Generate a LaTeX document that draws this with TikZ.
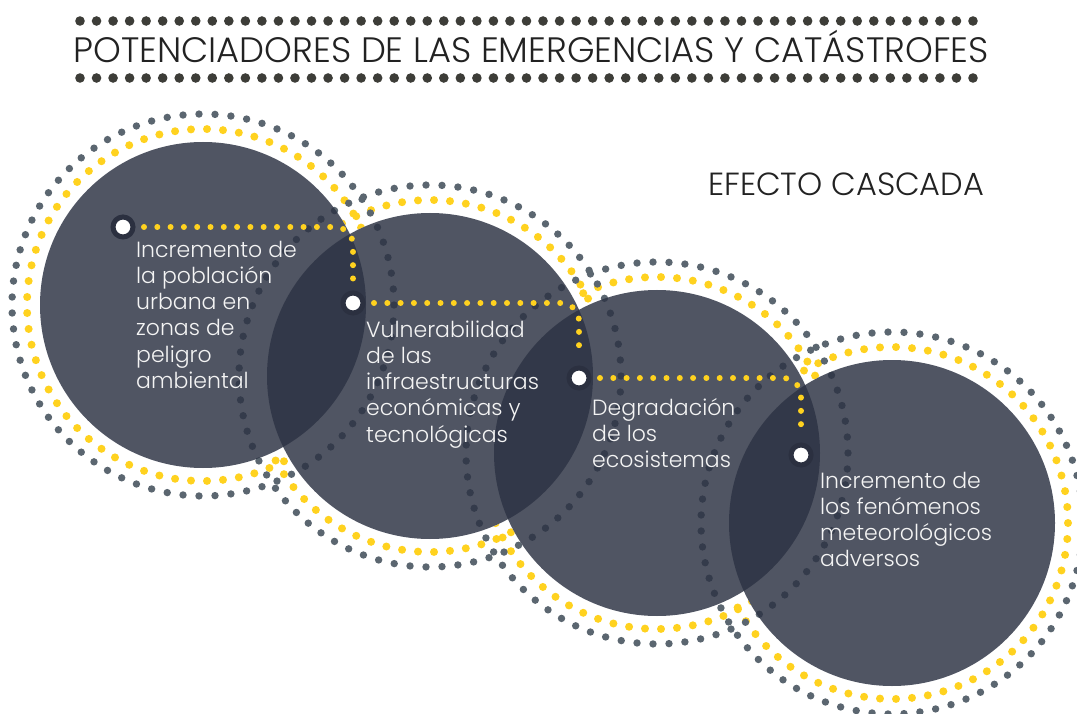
\documentclass[tikz,border=0pt]{standalone}
\usepackage{fontspec}
\setmainfont{Poppins Light}
\definecolor{circ}{HTML}{2D3344}
\definecolor{ydot}{HTML}{FFD21F}
\definecolor{gdot}{HTML}{5B6670}
\definecolor{tdot}{HTML}{3D3D38}
\definecolor{mark}{HTML}{2B3040}
\definecolor{ttl}{HTML}{222222}
\definecolor{btxt}{HTML}{F4F4F4}
\begin{document}
\begin{tikzpicture}[x=1pt,y=-1pt,
  disc/.style={fill=circ,fill opacity=0.83},
  conn/.style={draw=ydot,line width=6pt,line cap=round,dash pattern=on 0pt off 13.3pt,rounded corners=18pt,shorten <=8.5pt,shorten >=10pt},
  marker/.style={circle,fill=white,draw=mark,line width=5pt,minimum size=20pt,inner sep=0pt},
  body/.style={anchor=base west,align=left,text=btxt,font=\fontsize{22}{26.3}\selectfont,inner sep=0pt}
]
\useasboundingbox (0,0) rectangle (1077,714);
\fill[white] (0,0) rectangle (1077,714);
% title dots
\foreach \i in {0,...,54} {
  \fill[tdot] ({80+\i*16.537},21) circle[radius=4.8pt];
  \fill[tdot] ({80+\i*16.537},78) circle[radius=4.8pt];
}
\node[anchor=base,text=ttl,font=\fontsize{35.3}{40}\selectfont,inner sep=0pt] (title) at (531,63) {POTENCIADORES DE LAS EMERGENCIAS Y CATÁSTROFES};
\node[anchor=base west,text=ttl,font=\fontsize{32}{36}\selectfont,inner sep=0pt] (sub) at (708,196) {EFECTO CASCADA};
% circle centres
\coordinate (c1) at (203,305);
\coordinate (c2) at (430,376);
\coordinate (c3) at (657,453);
\coordinate (c4) at (892,523);
% yellow rings
\foreach \c in {c1,c2,c3,c4} {
  \foreach \k in {0,...,68} { \fill[ydot] (\c) ++({\k*5.217391}:176pt) circle[radius=4pt]; }
}
% hide rings under discs
\foreach \c in {c1,c2,c3,c4} { \fill[white] (\c) circle[radius=163pt]; }
% grey rings
\foreach \c in {c1,c2,c3,c4} {
  \foreach \k in {0,...,74} { \fill[gdot] (\c) ++({\k*4.8}:191pt) circle[radius=3.7pt]; }
}
% discs
\foreach \c in {c1,c2,c3,c4} { \fill[disc] (\c) circle[radius=163pt]; }
% markers
\node[marker] (m1) at (123,227) {};
\node[marker] (m2) at (353,303) {};
\node[marker] (m3) at (579,378) {};
\node[marker] (m4) at (801,455) {};
\draw[conn] (m1) -| (m2);
\draw[conn] (m2) -| (m3);
\draw[conn] (m3) -| (m4);
% texts (anchor = baseline of last line)
\node[body] (t1) at (136,388.5) {Incremento de\\la población\\urbana en\\zonas de\\peligro\\ambiental};
\node[body] (t2) at (366,442.2) {Vulnerabilidad\\de las\\infraestructuras\\económicas y\\tecnológicas};
\node[body] (t3) at (592,467.6) {Degradación\\de los\\ecosistemas};
\node[body] (t4) at (820,566.9) {Incremento de\\los fenómenos\\meteorológicos\\adversos};
\end{tikzpicture}
\end{document}
